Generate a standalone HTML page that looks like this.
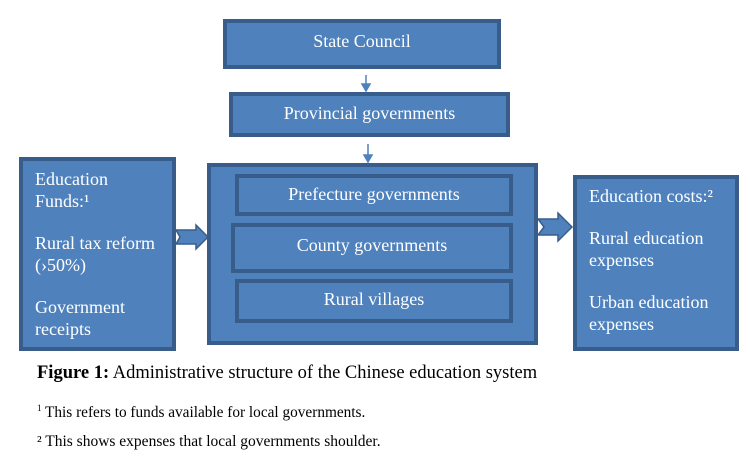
<!DOCTYPE html>
<html><head><style>
body{margin:0;width:747px;height:463px;background:#fff;position:relative;font-family:"Liberation Serif",serif;overflow:hidden}
.b{position:absolute;box-sizing:border-box;background:#4f81bd;border:4px solid #385d8a;color:#fff;font-size:18px}
.c{display:flex;align-items:center;justify-content:center}
.t{position:absolute;color:#000;white-space:nowrap}
</style></head><body>
<div class="b c" style="left:223px;top:19px;width:278px;height:50px;padding-bottom:6px">State Council</div>
<div class="b c" style="left:229px;top:92px;width:281px;height:45px;padding-bottom:2px">Provincial governments</div>
<div class="b" style="left:207px;top:163px;width:331px;height:182px"></div>
<div class="b c" style="left:235px;top:174px;width:278px;height:42px;padding-bottom:2px">Prefecture governments</div>
<div class="b c" style="left:231px;top:223px;width:282px;height:50px;padding-bottom:6px">County governments</div>
<div class="b c" style="left:235px;top:279px;width:278px;height:44px;padding-bottom:4px">Rural villages</div>
<div class="b" style="left:19px;top:157px;width:157px;height:194px;padding:7px 0 0 12px;line-height:22px">Education<br>Funds:¹<br><div style="height:20px"></div>Rural tax reform<br>(›50%)<div style="height:20px"></div>Government<br>receipts</div>
<div class="b" style="left:573px;top:175px;width:166px;height:176px;padding:6px 0 0 12px;line-height:22px">Education costs:²<div style="height:20px"></div>Rural education<br>expenses<div style="height:20px"></div>Urban education<br>expenses</div>
<svg style="position:absolute;left:0;top:0" width="747" height="463">
<g fill="#4f81bd" stroke="#385d8a" stroke-width="1.5">
<polygon points="176,230 196,230 196,225 208,237 196,249 196,244 176,244 180,237"/>
<polygon points="538,219 558,219 558,213 572,227 558,241 558,235 538,235 544,227"/>
</g>
<g stroke="#4f81bd" stroke-width="1.5" fill="#4f81bd">
<line x1="366" y1="75" x2="366" y2="86"/><polygon points="362,84 370,84 366,91"/>
<line x1="368" y1="144" x2="368" y2="157"/><polygon points="364,155 372,155 368,162"/>
</g>
</svg>
<div class="t" style="left:37px;top:363px;font-size:18.5px"><b>Figure 1:</b> Administrative structure of the Chinese education system</div>
<div class="t" style="left:37px;top:403px;font-size:15.3px"><sup style="font-size:9px">1</sup> This refers to funds available for local governments.</div>
<div class="t" style="left:37px;top:433px;font-size:15.5px">² This shows expenses that local governments shoulder.</div>
</body></html>
